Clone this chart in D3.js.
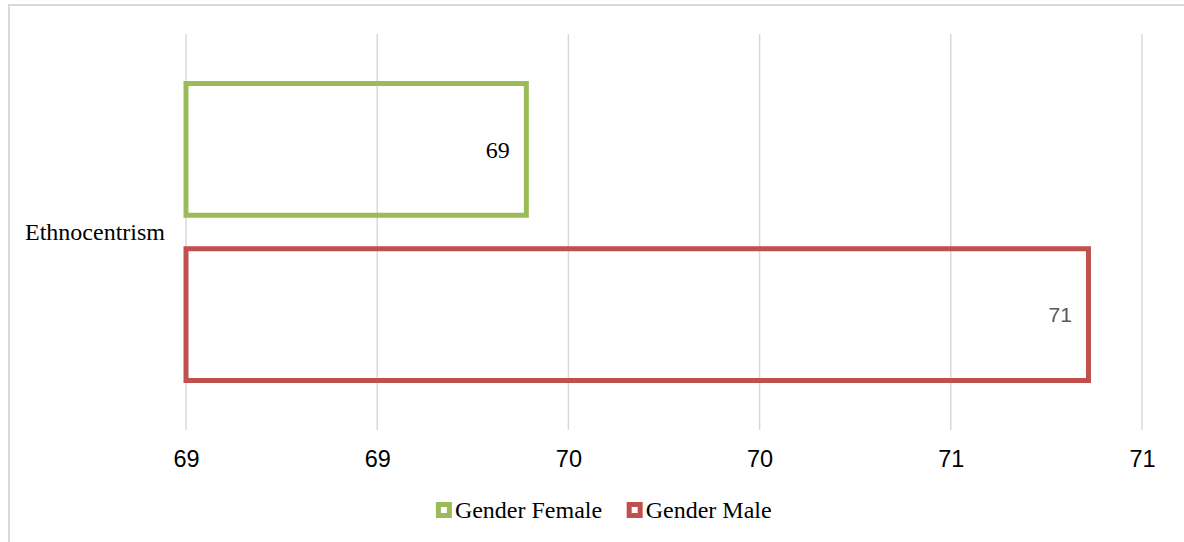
<!DOCTYPE html>
<html>
<head>
<meta charset="utf-8">
<script src="https://cdn.jsdelivr.net/npm/d3@7"></script>
<style>
  html, body { margin: 0; padding: 0; background: #ffffff; }
  svg { display: block; }
</style>
</head>
<body>
<svg id="chart" width="1184" height="542"></svg>
<script>
// Category, series and values
const categories = ["Ethnocentrism"];
const seriesNames = ["Gender Female", "Gender Male"];
const seriesColors = ["#9BBB59", "#C0504D"];
const femaleValues = [69.89];
const maleValues = [71.36];
const tickValues = [69, 69.5, 70, 70.5, 71, 71.5];

const W = 1184, H = 542;
const svg = d3.select("#chart");

const plot = { left: 186, right: 1142, top: 34, bottom: 430 };
const serif = "'Liberation Serif', 'Times New Roman', serif";
const sans = "'Liberation Sans', Arial, sans-serif";

// Chart area border
svg.append("rect")
  .attr("x", 9).attr("y", 5)
  .attr("width", W).attr("height", H)
  .attr("fill", "none")
  .attr("stroke", "#d9d9d9")
  .attr("stroke-width", 2);

const x = d3.scaleLinear()
  .domain([tickValues[0], tickValues[tickValues.length - 1]])
  .range([plot.left, plot.right]);

const y = d3.scaleBand()
  .domain(categories)
  .range([plot.top, plot.bottom])
  .paddingInner(0)
  .paddingOuter(1 / 6);

const ySeries = d3.scaleBand()
  .domain(seriesNames)
  .range([0, y.bandwidth()])
  .paddingInner(0.2027);

// Whole-number labels (values are truncated)
const fmt = v => String(Math.floor(v + 1e-9));

// Vertical gridlines
svg.append("g")
  .selectAll("line")
  .data(tickValues)
  .join("line")
  .attr("x1", d => x(d)).attr("x2", d => x(d))
  .attr("y1", plot.top).attr("y2", plot.bottom)
  .attr("stroke", "#d9d9d9")
  .attr("stroke-width", 1.5);

// X axis labels
const xAxis = d3.axisBottom(x)
  .tickValues(tickValues)
  .tickFormat(fmt)
  .tickSize(0)
  .tickPadding(0);

const gx = svg.append("g")
  .attr("transform", `translate(0,${plot.bottom})`)
  .call(xAxis);
gx.select(".domain").remove();
gx.selectAll("text")
  .attr("y", 37)
  .attr("dy", null)
  .attr("font-family", sans)
  .attr("font-size", 23.5)
  .attr("fill", "#000000");

// Y axis category label
const yAxis = d3.axisLeft(y).tickSize(0).tickPadding(21);
const gy = svg.append("g")
  .attr("transform", `translate(${plot.left},0)`)
  .call(yAxis);
gy.select(".domain").remove();
gy.selectAll("text")
  .attr("font-family", serif)
  .attr("font-size", 24)
  .attr("fill", "#000000");

// Bars
const rows = categories.flatMap((c, i) => [
  { cat: c, series: seriesNames[0], value: femaleValues[i], color: seriesColors[0] },
  { cat: c, series: seriesNames[1], value: maleValues[i], color: seriesColors[1] }
]);

const barY = d => y(d.cat) + ySeries(d.series);

svg.append("g")
  .selectAll("rect")
  .data(rows)
  .join("rect")
  .attr("x", x(tickValues[0]))
  .attr("y", barY)
  .attr("width", d => x(d.value) - x(tickValues[0]))
  .attr("height", ySeries.bandwidth())
  .attr("fill", "none")
  .attr("stroke", d => d.color)
  .attr("stroke-width", 5);

// Data labels
svg.append("g")
  .selectAll("text")
  .data(rows)
  .join("text")
  .attr("x", d => x(d.value) - 16.5)
  .attr("y", d => barY(d) + ySeries.bandwidth() / 2)
  .attr("dy", "0.36em")
  .attr("text-anchor", "end")
  .attr("font-family", (d, i) => i === 0 ? serif : sans)
  .attr("font-size", (d, i) => i === 0 ? 24 : 21)
  .attr("fill", (d, i) => i === 0 ? "#000000" : "#595959")
  .text(d => fmt(d.value));

// Legend
const legend = svg.append("g");
const items = legend.selectAll("g")
  .data(seriesNames)
  .join("g");

items.append("rect")
  .attr("x", 2.5).attr("y", -5.5)
  .attr("width", 11).attr("height", 11)
  .attr("fill", "#ffffff")
  .attr("stroke", (d, i) => seriesColors[i])
  .attr("stroke-width", 5);

items.append("text")
  .attr("x", 19)
  .attr("y", 7.5)
  .attr("font-family", serif)
  .attr("font-size", 24)
  .attr("fill", "#000000")
  .text(d => d);

let offset = 0;
const widths = [];
items.each(function () {
  widths.push(this.getBBox().width);
});
const gap = 27;
const total = d3.sum(widths) + gap * (widths.length - 1);
const startX = 602.5 - total / 2;
items.attr("transform", (d, i) => {
  const tx = startX + offset;
  offset += widths[i] + gap;
  return `translate(${tx},510)`;
});
</script>
</body>
</html>
